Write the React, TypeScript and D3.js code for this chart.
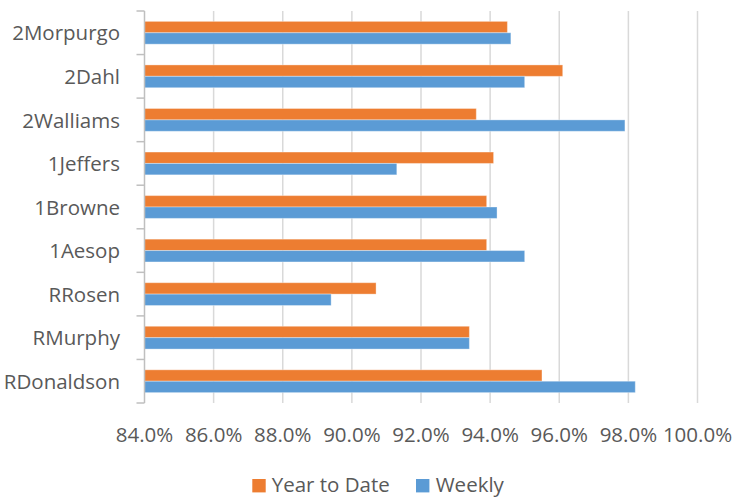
import React from "react";
import * as d3 from "d3";

const categories = ["2Morpurgo", "2Dahl", "2Walliams", "1Jeffers", "1Browne", "1Aesop", "RRosen", "RMurphy", "RDonaldson"];
const yearToDate = [94.5, 96.1, 93.6, 94.1, 93.9, 93.9, 90.7, 93.4, 95.5];
const weekly = [94.6, 95.0, 97.9, 91.3, 94.2, 95.0, 89.4, 93.4, 98.2];
const xTicks = [84, 86, 88, 90, 92, 94, 96, 98, 100];
const seriesNames = ["Year to Date", "Weekly"];
const seriesColors = ["#ED7D31", "#5B9BD5"];

const W = 735;
const H = 497;
const FONT = "'Open Sans', sans-serif";
const TEXT = "#595959";

export default function App() {
  const left = 144.5;
  const right = 697.5;
  const top = 11;
  const bottom = 403;
  const x = d3.scaleLinear().domain([84, 100]).range([left, right]);
  const y = d3.scaleBand<string>().domain(categories).range([top, bottom]).paddingInner(0).paddingOuter(0);
  const bw = y.bandwidth();
  const barH = bw / 3.82;
  const series = [yearToDate, weekly];

  return (
    <div style={{ position: "fixed", left: 0, top: 0 }}>
      <svg width={W} height={H} style={{ display: "block", background: "#fff" }}>
        {xTicks.slice(1).map((t) => (
          <line key={t} x1={x(t)} x2={x(t)} y1={top} y2={bottom} stroke="#d9d9d9" strokeWidth={1.5} />
        ))}
        {categories.map((c, i) => {
          const cy = (y(c) as number) + bw / 2;
          return (
            <g key={c}>
              {series.map((s, k) => (
                <rect
                  key={k}
                  x={x(84)}
                  y={cy - barH + k * barH}
                  width={x(s[i]) - x(84)}
                  height={barH}
                  fill={seriesColors[k]}
                  stroke="#ffffff"
                  strokeOpacity={0.35}
                  strokeWidth={1}
                />
              ))}
              <text x={120} y={cy + 7.7} textAnchor="end" fontFamily={FONT} fontSize={20.5} fill={TEXT}>
                {c}
              </text>
            </g>
          );
        })}
        <line x1={left} x2={left} y1={top} y2={bottom} stroke="#bfbfbf" strokeWidth={1.5} />
        {d3.range(categories.length + 1).map((j) => {
          const yy = top + j * bw;
          return <line key={j} x1={left - 8} x2={left} y1={yy} y2={yy} stroke="#bfbfbf" strokeWidth={1.5} />;
        })}
        {xTicks.map((t) => (
          <text key={t} x={x(t)} y={442} textAnchor="middle" fontFamily={FONT} fontSize={20.5} fill={TEXT}>
            {t.toFixed(1) + "%"}
          </text>
        ))}
        <g>
          <rect x={252.3} y={479} width={13.4} height={13.4} fill={seriesColors[0]} />
          <text x={271.7} y={491.5} fontFamily={FONT} fontSize={20.5} fill={TEXT}>{seriesNames[0]}</text>
          <rect x={416} y={479} width={13.4} height={13.4} fill={seriesColors[1]} />
          <text x={435.7} y={491.5} fontFamily={FONT} fontSize={20.5} fill={TEXT}>{seriesNames[1]}</text>
        </g>
      </svg>
    </div>
  );
}
